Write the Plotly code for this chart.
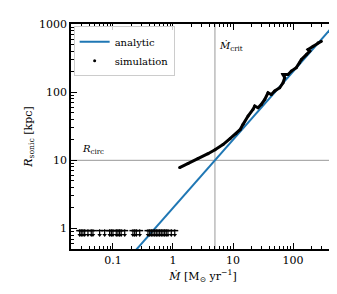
import plotly.graph_objects as go

# analytic relation endpoints (R_sonic = 2 * Mdot)
analytic_mdot = [0.1, 1000]
analytic_r = [0.2, 2000]

# simulation: resolved sonic radius
sim_mdot = [1.29, 1.78, 2.61, 3.83, 5.01, 6.81, 8.91, 11.2, 13.1, 14.7, 17.8, 21.5, 23.0,
            26.1, 29.6, 33.8, 38.3, 43.5, 49.5, 60.0, 68.1, 72.7, 68.1, 82.5, 93.7, 113,
            129, 138, 167, 190, 178, 215, 261, 296]
sim_r = [7.82, 8.95, 10.6, 12.5, 14.3, 17.0, 20.8, 24.6, 28.1, 33.7, 44.7, 55.8, 62.6,
         59.1, 66.1, 78.2, 97.9, 92.5, 104, 116, 137, 163, 182, 182, 204, 228,
         269, 301, 356, 400, 422, 473, 529, 560]

# simulation: upper limits
ul_mdot = [0.0279, 0.0296, 0.0316, 0.0338, 0.0383, 0.0435, 0.0464, 0.060, 0.0727, 0.088,
           0.094, 0.100, 0.1135, 0.121, 0.129, 0.137, 0.157, 0.215, 0.230, 0.245, 0.279,
           0.383, 0.409, 0.435, 0.464, 0.496, 0.527, 0.562, 0.600, 0.638, 0.681, 0.727,
           0.773, 0.825, 0.937, 1.07]
ul_r = [0.93] * len(ul_mdot)

# axis ticks
x_major = [0.1, 1, 10, 100]
x_labels = ["0.1", "1", "10", "100"]
y_major = [1, 10, 100, 1000]
y_labels = ["1", "10", "100", "1000"]
minor_vals = [k * 10.0 ** e for e in range(-2, 4) for k in range(2, 10)]

mdot_crit = 5.0
r_circ = 10.0

font_family = "DejaVu Serif"
blue = "#1f77b4"
x_range = [-1.699, 2.699]
y_range = [-0.301, 3.0]

fig = go.Figure()

fig.add_trace(go.Scatter(x=analytic_mdot, y=analytic_r, mode="lines",
                         line=dict(color=blue, width=2), name="analytic"))

# thick drawn curve (dense points)
fig.add_trace(go.Scatter(x=sim_mdot, y=sim_r, mode="lines",
                         line=dict(color="black", width=3), showlegend=False))
fig.add_trace(go.Scatter(x=sim_mdot, y=sim_r, mode="markers",
                         marker=dict(color="black", size=3), name="simulation"))

# upper limits: dash + downward stick + arrowhead
fig.add_trace(go.Scatter(x=ul_mdot, y=ul_r, mode="markers",
                         marker=dict(symbol="line-ew-open", size=5, color="black",
                                     line=dict(color="black", width=1.5)),
                         error_y=dict(type="data", symmetric=False,
                                      array=[r * 0.05 for r in ul_r],
                                      arrayminus=[r * 0.12 for r in ul_r],
                                      color="black", thickness=1.2, width=0),
                         showlegend=False))
fig.add_trace(go.Scatter(x=ul_mdot, y=[r * 0.86 for r in ul_r], mode="markers",
                         marker=dict(symbol="triangle-down", size=4, color="black"),
                         showlegend=False))

# invisible trace carrying the minor-tick overlay axes
fig.add_trace(go.Scatter(x=analytic_mdot, y=analytic_r, xaxis="x2", yaxis="y2",
                         mode="lines", opacity=0, showlegend=False, hoverinfo="skip"))

fig.add_shape(type="line", xref="x", yref="paper", x0=mdot_crit, x1=mdot_crit, y0=0, y1=1,
              line=dict(color="#999999", width=1), layer="below")
fig.add_shape(type="line", xref="paper", yref="y", x0=0, x1=1, y0=r_circ, y1=r_circ,
              line=dict(color="#999999", width=1), layer="below")

fig.add_annotation(x=0.69897, xref="x", y=0.90, yref="paper", xanchor="left", yanchor="middle",
                   xshift=2, showarrow=False, text="<i>M\u0307</i><sub>crit</sub>",
                   font=dict(family=font_family, size=10, color="black"))
fig.add_annotation(x=0.035, xref="paper", y=1, yref="y", xanchor="left", yanchor="bottom",
                   yshift=2, showarrow=False, text="<i>R</i><sub>circ</sub>",
                   font=dict(family=font_family, size=10, color="black"))

axis_common = dict(type="log", showgrid=False, zeroline=False, showline=True,
                   linecolor="black", linewidth=1.5, mirror="allticks", ticks="inside",
                   ticklen=6, tickwidth=1.3, tickcolor="black",
                   tickfont=dict(family=font_family, size=11, color="black"))

minor_common = dict(type="log", showgrid=False, zeroline=False, showline=True,
                    linecolor="black", linewidth=1.5,
                    mirror="allticks", ticks="inside", ticklen=3.5, tickwidth=1,
                    tickcolor="black", showticklabels=False, tickmode="array",
                    tickvals=minor_vals)

fig.update_layout(
    template="none",
    xaxis=dict(**axis_common, range=x_range, tickmode="array",
               tickvals=x_major, ticktext=x_labels,
               title=dict(text="<i>M\u0307</i> [M<sub>\u2299</sub> yr<sup>\u22121</sup>]",
                          font=dict(family=font_family, size=11, color="black"),
                          standoff=6)),
    yaxis=dict(**axis_common, range=y_range, tickmode="array",
               tickvals=y_major, ticktext=y_labels,
               title=dict(text="<i>R</i><sub>sonic</sub> [kpc]",
                          font=dict(family=font_family, size=11, color="black"),
                          standoff=4)),
    xaxis2=dict(**minor_common, range=x_range, overlaying="x", anchor="y", side="bottom"),
    yaxis2=dict(**minor_common, range=y_range, overlaying="y", anchor="x", side="left"),
)

fig.update_layout(width=337, height=294, margin=dict(l=63, r=10, t=16, b=53),
                  paper_bgcolor="white", plot_bgcolor="white",
                  legend=dict(x=0.01, y=0.99, xanchor="left", yanchor="top",
                              bgcolor="rgba(255,255,255,0.8)", bordercolor="#cccccc",
                              borderwidth=1, font=dict(family=font_family, size=10, color="black"),
                              tracegroupgap=0, itemwidth=30),
                  font=dict(family=font_family, color="black"))

fig.write_html("out.html")
